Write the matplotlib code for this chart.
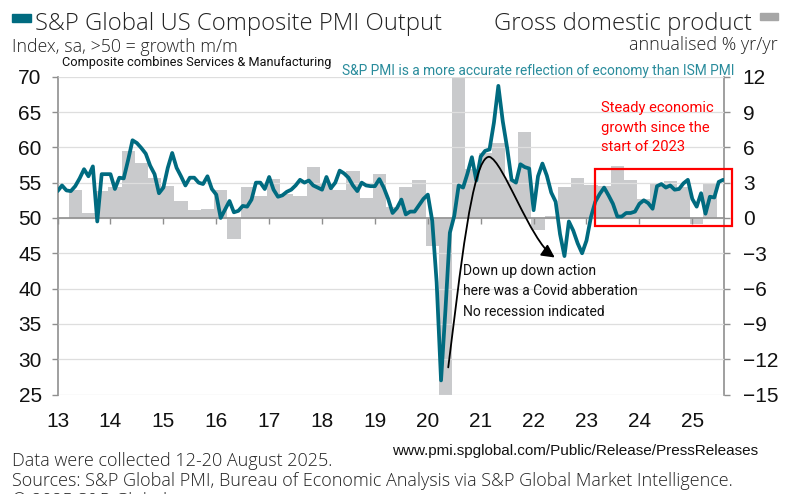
import numpy as np
import matplotlib
matplotlib.use("Agg")
import matplotlib.pyplot as plt
from matplotlib.patches import Rectangle, FancyArrowPatch
from matplotlib.path import Path

plt.rcParams['font.family'] = ['Roboto', 'DejaVu Sans']

# S&P Global US Composite PMI Output, monthly Jan 2013 - Aug 2025
pmi = [
    53.8, 54.6, 53.9, 53.8, 54.5, 55.6, 56.9, 55.9, 57.3, 49.5, 56.2, 56.2,  # 2013
    56.2, 54.1, 55.7, 55.6, 58.2, 61.0, 60.6, 59.9, 59.1, 57.4, 56.2, 53.5,  # 2014
    54.3, 57.1, 59.2, 57.1, 55.9, 54.6, 55.7, 55.7, 55.0, 54.8, 55.9, 54.1,  # 2015
    53.3, 50.0, 51.2, 52.4, 50.8, 51.0, 51.7, 51.6, 52.6, 55.0, 55.0, 54.1,  # 2016
    55.8, 54.0, 53.0, 53.2, 53.7, 54.0, 54.6, 55.4, 55.0, 55.3, 54.6, 54.3,  # 2017
    54.0, 55.8, 54.2, 55.0, 56.7, 56.3, 55.7, 54.6, 53.8, 55.0, 54.6, 54.5,  # 2018
    54.5, 55.5, 54.3, 52.7, 50.7, 51.4, 52.6, 50.5, 50.9, 50.9, 51.8, 52.7,  # 2019
    53.3, 49.6, 40.9, 27.0, 37.0, 47.9, 50.3, 54.6, 54.3, 56.3, 58.6, 55.3,  # 2020
    58.7, 59.5, 59.7, 63.5, 68.7, 63.7, 59.9, 55.4, 55.0, 57.6, 57.2, 57.0,  # 2021
    51.1, 55.9, 57.7, 56.0, 53.6, 52.3, 47.7, 44.6, 49.5, 48.2, 46.4, 45.0,  # 2022
    46.8, 50.1, 52.3, 53.4, 54.3, 53.2, 52.0, 50.2, 50.2, 50.7, 50.7, 50.9,  # 2023
    52.0, 52.5, 52.1, 51.3, 54.5, 54.8, 54.3, 54.6, 54.0, 54.1, 54.9, 55.4,  # 2024
    52.7, 51.6, 53.5, 50.6, 53.0, 52.9, 55.1, 55.4,                          # 2025
]

# GDP, annualised %, quarterly Q2 2013 - Q2 2025
gdp = [
    2.4, 0.4, 2.3,
    2.6, 5.7, 4.7, 3.4,
    2.7, 1.4, 0.7, 0.8,
    2.4, -1.8, 2.6, 1.9,
    3.3, 2.0, 1.9, 4.3,
    3.0, 2.4, 4.0, 1.7,
    3.7, 0.9, 2.6, 3.2,
    -2.4, -28.0, 35.0, 4.2,
    5.5, 6.4, 3.2, 7.3,
    -1.0, 0.2, 2.6, 3.4,
    2.8, 2.7, 4.4, 3.2,
    1.6, 3.0, 3.1, 2.6,
    -0.5, 3.0,
]

years = list(range(2013, 2026))
year_labels = [str(y)[2:] for y in years]
pmi_ticks = list(range(25, 75, 5))
gdp_ticks = list(range(-15, 15, 3))

teal = '#006b80'
bar_grey = '#c9cacc'
axis_grey = '#8f8f8f'

# monthly dates as fractional years, quarterly bars centred on middle month
months = 2013 + np.arange(len(pmi)) / 12
quarters = 2013 + (4 + 3 * np.arange(len(gdp))) / 12


def gdp_to_pmi(g):
    return 50 + np.asarray(g) * 5 / 3


def pmi_to_gdp(p):
    return (np.asarray(p) - 50) * 3 / 5


def fx(px):
    return px / 785


def fy(py):
    return 1 - py / 494


fig = plt.figure(figsize=(7.85, 4.94), dpi=100)
ax = fig.add_axes([fx(57.6), fy(394.5), fx(724) - fx(57.6), fy(76.7) - fy(394.5)])

ax.bar(quarters, gdp_to_pmi(gdp) - 50, bottom=50, width=3 / 12,
       color=bar_grey, edgecolor='none', zorder=1)
ax.plot(months, pmi, color=teal, lw=2.7, solid_joinstyle='round',
        solid_capstyle='round', zorder=3)

ax.set_xlim(2013, 2025.6)
ax.set_ylim(25, 70)
ax.set_axisbelow(False)
ax.grid(axis='y', color='#dedede', lw=0.9, zorder=2.5)
ax.set_yticks(pmi_ticks)
ax.set_xticks(years, year_labels)

tick_font = ['Liberation Sans Narrow', 'Liberation Sans', 'DejaVu Sans']
for lab in ax.get_xticklabels() + ax.get_yticklabels():
    lab.set_fontfamily(tick_font)
ax.tick_params(axis='x', length=0, pad=12.5, labelsize=15, colors='#111111')
ax.tick_params(axis='y', length=4.5, width=1, color=axis_grey, pad=7,
               labelsize=15, labelcolor='#111111')

for side in ['top', 'bottom', 'right']:
    ax.spines[side].set_visible(False)
ax.spines['left'].set_color(axis_grey)
ax.spines['left'].set_linewidth(1.2)

# right-hand GDP scale
ax_r = ax.secondary_yaxis('right', functions=(pmi_to_gdp, gdp_to_pmi))
ax_r.set_yticks(gdp_ticks)
for lab in ax_r.get_yticklabels():
    lab.set_fontfamily(tick_font)
ax_r.tick_params(axis='y', length=4.5, width=1, color=axis_grey, pad=9,
                 labelsize=15, labelcolor='#111111')
ax_r.spines['right'].set_color(axis_grey)
ax_r.spines['right'].set_linewidth(1.2)

# year ticks sitting on the 50 line
ax_50 = ax.secondary_xaxis((50 - 25) / (70 - 25))
ax_50.set_alignment('bottom')
ax_50.set_xticks(years)
ax_50.tick_params(axis='x', length=4.5, width=1, color=axis_grey, labelbottom=False)
ax_50.spines['bottom'].set_color(axis_grey)
ax_50.spines['bottom'].set_linewidth(1.2)
ax_50.set_zorder(2.6)

# annotations
ax.text(2013.09, 72.0, 'Composite combines Services & Manufacturing',
        fontsize=9.2, color='#111111', va='center', clip_on=False)
ax.text(2025.8, 70.8, 'S&P PMI is a more accurate reflection of economy than ISM PMI',
        fontsize=9.9, color='#2a8c9c', ha='right', va='center', clip_on=False)

ax.add_patch(Rectangle((2023.16, 48.86), 2.594, 8.01, fill=False, ec='#ff0000',
                       lw=1.6, zorder=4, clip_on=False))
ax.text(2023.27, 62.75, 'Steady economic\ngrowth since the\nstart of 2023',
        fontsize=10.6, color='#ff0000', va='center', linespacing=1.5)

ax.text(2020.66, 39.6, 'Down up down action\nhere was a Covid abberation\nNo recession indicated',
        fontsize=10, color='#111111', va='center', linespacing=1.6)

verts = [(2020.386, 28.84), (2020.607, 41.86), (2020.834, 58.66), (2021.161, 58.66),
         (2021.42, 58.2), (2021.93, 46.83), (2022.40, 44.40)]
codes = [Path.MOVETO] + [Path.CURVE4] * 6
ax.add_patch(FancyArrowPatch(path=Path(verts, codes),
                             arrowstyle='-|>,head_length=0.55,head_width=0.28',
                             mutation_scale=14, color='black', lw=1.3, zorder=5))

# header
head_font = ['Open Sans', 'DejaVu Sans']
fig.patches.append(Rectangle((fx(12), fy(22)), fx(19), 8 / 494, color=teal,
                             transform=fig.transFigure, figure=fig))
fig.text(fx(35), fy(30), 'S&P Global US Composite PMI Output', fontsize=17.2,
         fontweight='light', fontfamily=head_font, color='#222222', va='baseline')
fig.text(fx(12), fy(52), 'Index, sa, >50 = growth m/m', fontsize=12.8,
         fontweight='light', fontfamily=head_font, color='#222222', va='baseline')
fig.patches.append(Rectangle((fx(760), fy(20)), fx(18), 7 / 494, color='#a6a6a6',
                             transform=fig.transFigure, figure=fig))
fig.text(fx(752), fy(29.5), 'Gross domestic product', fontsize=17.2,
         fontweight='light', fontfamily=head_font, color='#222222', ha='right',
         va='baseline')
fig.text(fx(778), fy(50), 'annualised % yr/yr', fontsize=13,
         fontweight='light', fontfamily=head_font, color='#222222', ha='right',
         va='baseline')

# footer
fig.text(fx(758), fy(455), 'www.pmi.spglobal.com/Public/Release/PressReleases',
         fontsize=11, color='#111111', ha='right', va='baseline',
         fontfamily=tick_font)
fig.text(fx(12), fy(466), 'Data were collected 12-20 August 2025.', fontsize=13,
         fontweight='light', fontfamily=head_font, color='#222222', va='baseline')
fig.text(fx(12), fy(486), 'Sources: S&P Global PMI, Bureau of Economic Analysis via '
         'S&P Global Market Intelligence.', fontsize=13, fontweight='light',
         fontfamily=head_font, color='#222222', va='baseline')
fig.text(fx(12), fy(506), '\u00a9 2025 S&P Global.', fontsize=13, fontweight='light',
         fontfamily=head_font, color='#222222', va='baseline')

fig.savefig('out.png', dpi=100)
